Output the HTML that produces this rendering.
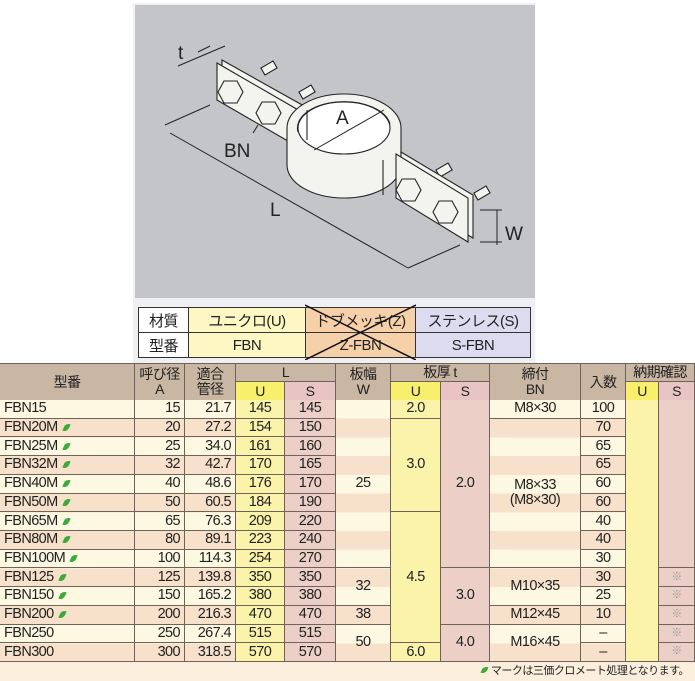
<!DOCTYPE html>
<html><head><meta charset="utf-8">
<style>
*{box-sizing:border-box;margin:0;padding:0}
body{width:695px;height:681px;position:relative;background:#fff;font-family:"Liberation Sans","Noto Sans CJK JP",sans-serif;color:#222;overflow:hidden}
.abs{position:absolute}
.g{position:absolute;left:0;width:695px;display:grid;grid-template-columns:135px 50px 51px 49px 51px 55px 50px 49px 91px 45px 33px 36px;font-size:14.5px;letter-spacing:-0.6px}
.g>div{border-right:1px solid #6e625a;border-bottom:1px solid #6e625a;display:flex;align-items:center;justify-content:center;line-height:1.05;text-align:center;white-space:nowrap}
.hd{top:363px;height:37px;grid-template-rows:18px 19px;background:#c9b7a4;border-top:1px solid #6e625a}
.hd>div{font-size:14px}
.bd{top:400px;height:262px;grid-template-rows:repeat(14,1fr);background:repeating-linear-gradient(#fdf8e2 0,#fdf8e2 18.714px,#f8e1cb 18.714px,#f8e1cb 37.43px)}
.hy{background:#f8ef6c}.hp{background:#e9c4c4}
.y{background:#fbf3a9}.p{background:#ecd0c8}
.l{justify-content:flex-start!important;padding-left:4px}
.r{justify-content:flex-end!important;padding-right:4px}
.lf{display:inline-block;width:5px;height:9px;background:#3bab3b;border-radius:5px 0 5px 0;transform:rotate(25deg);margin-left:6px}
.mt{position:absolute;left:138px;top:307px;display:grid;grid-template-columns:50px 117px 110px 115px;grid-template-rows:25px 25px;border-top:1px solid #333;border-left:1px solid #333;font-size:15px;letter-spacing:-0.5px}
.mt>div{border-right:1px solid #333;border-bottom:1px solid #333;display:flex;align-items:center;justify-content:center;background:#fff}
</style></head><body>
<div class="abs" style="left:133px;top:3px;width:402px;height:360px;background:#f0f0f2"></div>
<svg class="abs" style="left:135px;top:5px" width="400" height="293" viewBox="135 5 400 293">
<rect x="135" y="5" width="400" height="293" fill="#c4c5c8"/>
<g stroke="#222" stroke-width="1.1" fill="#f3f3f0">
<!-- studs -->
<rect x="262" y="64" width="14" height="8" transform="rotate(-30 269 68)"/>
<rect x="300" y="88" width="14" height="8" transform="rotate(-30 307 92)"/>
<rect x="437" y="166" width="14" height="8" transform="rotate(-30 444 170)"/>
<rect x="475" y="189" width="14" height="8" transform="rotate(-30 482 193)"/>
<!-- left plate -->
<polygon points="222,60 304,106 304,144 222,98"/>
<polygon points="217,63 300,111 300,148 217,100"/>
<!-- ring band -->
<path d="M287,128 A57,34 0 0 1 401,128 L401,165 A57,33 0 0 1 287,165 Z"/>
<ellipse cx="344" cy="128" rx="46" ry="26" fill="#fff"/>
<path d="M298,132 A46,26 0 0 1 390,124" fill="none"/>
<line x1="307" y1="110" x2="307" y2="140"/>
<line x1="383" y1="160" x2="383" y2="195"/>
<!-- right plate -->
<polygon points="401,152 473,195 473,238 401,195"/>
<polygon points="396,154 468,198 468,242 396,198"/>
<!-- bolts -->
<polygon points="218,92 224,81 237,81 243,92 237,103 224,103"/>
<polygon points="256,113 262,102 275,102 281,113 275,124 262,124"/>
<polygon points="396,190 402,179 415,179 421,190 415,201 402,201"/>
<polygon points="433,212 439,201 452,201 458,212 452,223 439,223"/>
</g>
<g stroke="#222" stroke-width="1" fill="none">
<line x1="178" y1="66" x2="225" y2="46"/><line x1="198" y1="52" x2="210" y2="46"/>
<line x1="165" y1="125" x2="210" y2="105"/><line x1="170" y1="133" x2="408" y2="268"/>
<line x1="408" y1="268" x2="460" y2="245"/>
<line x1="480" y1="210" x2="502" y2="210"/><line x1="480" y1="242" x2="502" y2="242"/>
<line x1="497" y1="210" x2="497" y2="245"/>
<line x1="314" y1="150" x2="384" y2="110"/>
<line x1="253" y1="133" x2="258" y2="125"/>
</g>
<g font-family="Liberation Sans" font-size="19" fill="#222">
<text x="178" y="59">t</text><text x="336" y="124">A</text><text x="224" y="157">BN</text>
<text x="270" y="216">L</text><text x="505" y="240">W</text>
</g>
</svg>
<div class="mt">
<div>材質</div><div style="background:#fdf7c3">ユニクロ(U)</div><div style="background:#f6d0a9">ドブメッキ(Z)</div><div style="background:#dddbf0">ステンレス(S)</div>
<div>型番</div><div style="background:#fdf7c3">FBN</div><div style="background:#f6d0a9">Z-FBN</div><div style="background:#dddbf0">S-FBN</div>
</div>
<svg class="abs" style="left:305px;top:303px" width="111" height="57"><line x1="0" y1="57" x2="111" y2="2" stroke="#111" stroke-width="1.5"/><line x1="0" y1="2" x2="111" y2="57" stroke="#111" stroke-width="1.5"/></svg>

<div class="g hd">
<div style="grid-row:span 2">型番</div><div style="grid-row:span 2">呼び径<br>A</div><div style="grid-row:span 2">適合<br>管径</div>
<div style="grid-column:span 2">L</div><div style="grid-row:span 2">板幅<br>W</div><div style="grid-column:span 2">板厚 t</div>
<div style="grid-row:span 2">締付<br>BN</div><div style="grid-row:span 2">入数</div><div style="grid-column:span 2">納期確認</div>
<div class="hy">U</div><div class="hp">S</div><div class="hy">U</div><div class="hp">S</div><div class="hy">U</div><div class="hp">S</div>
</div>

<div class="g bd">
<div class="l">FBN15</div><div class="r">15</div><div class="r">21.7</div><div class="y">145</div><div class="p">145</div><div style="grid-row:span 9">25</div><div class="y">2.0</div><div class="p" style="grid-row:span 9">2.0</div><div>M8×30</div><div>100</div><div class="y" style="grid-row:span 14"></div><div class="p" style="grid-row:span 9"></div>
<div class="l">FBN20M<span class="lf"></span></div><div class="r">20</div><div class="r">27.2</div><div class="y">154</div><div class="p">150</div><div class="y" style="grid-row:span 5">3.0</div><div style="grid-row:span 8">M8×33<br>(M8×30)</div><div>70</div>
<div class="l">FBN25M<span class="lf"></span></div><div class="r">25</div><div class="r">34.0</div><div class="y">161</div><div class="p">160</div><div>65</div>
<div class="l">FBN32M<span class="lf"></span></div><div class="r">32</div><div class="r">42.7</div><div class="y">170</div><div class="p">165</div><div>65</div>
<div class="l">FBN40M<span class="lf"></span></div><div class="r">40</div><div class="r">48.6</div><div class="y">176</div><div class="p">170</div><div>60</div>
<div class="l">FBN50M<span class="lf"></span></div><div class="r">50</div><div class="r">60.5</div><div class="y">184</div><div class="p">190</div><div>60</div>
<div class="l">FBN65M<span class="lf"></span></div><div class="r">65</div><div class="r">76.3</div><div class="y">209</div><div class="p">220</div><div class="y" style="grid-row:span 7">4.5</div><div>40</div>
<div class="l">FBN80M<span class="lf"></span></div><div class="r">80</div><div class="r">89.1</div><div class="y">223</div><div class="p">240</div><div>40</div>
<div class="l">FBN100M<span class="lf"></span></div><div class="r">100</div><div class="r">114.3</div><div class="y">254</div><div class="p">270</div><div>30</div>
<div class="l">FBN125<span class="lf"></span></div><div class="r">125</div><div class="r">139.8</div><div class="y">350</div><div class="p">350</div><div style="grid-row:span 2">32</div><div class="p" style="grid-row:span 3">3.0</div><div style="grid-row:span 2">M10×35</div><div>30</div><div class="p" style="color:#999;font-size:11px">※</div>
<div class="l">FBN150<span class="lf"></span></div><div class="r">150</div><div class="r">165.2</div><div class="y">380</div><div class="p">380</div><div>25</div><div class="p" style="color:#999;font-size:11px">※</div>
<div class="l">FBN200<span class="lf"></span></div><div class="r">200</div><div class="r">216.3</div><div class="y">470</div><div class="p">470</div><div>38</div><div>M12×45</div><div>10</div><div class="p" style="color:#999;font-size:11px">※</div>
<div class="l">FBN250</div><div class="r">250</div><div class="r">267.4</div><div class="y">515</div><div class="p">515</div><div style="grid-row:span 2">50</div><div class="p" style="grid-row:span 2">4.0</div><div style="grid-row:span 2">M16×45</div><div>–</div><div class="p" style="color:#999;font-size:11px">※</div>
<div class="l">FBN300</div><div class="r">300</div><div class="r">318.5</div><div class="y">570</div><div class="p">570</div><div class="y">6.0</div><div>–</div><div class="p" style="color:#999;font-size:11px">※</div>
</div>
<div class="abs" style="left:0;top:662px;width:695px;height:19px;background:#fbeedc;font-size:11px;text-align:right;padding-right:6px;line-height:19px;letter-spacing:-0.5px"><span class="lf" style="margin-right:4px;height:8px"></span>マークは三価クロメート処理となります。</div>
</body></html>
